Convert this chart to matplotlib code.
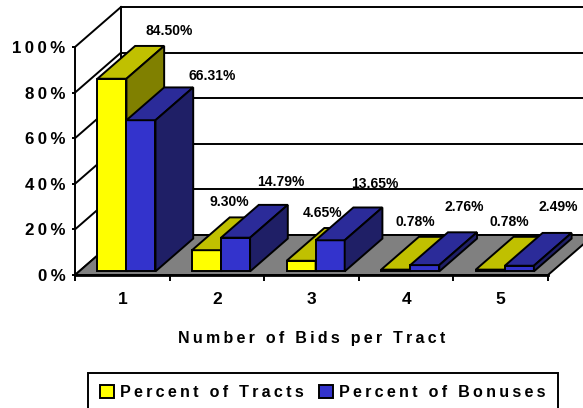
import matplotlib.pyplot as plt
from matplotlib.patches import Polygon, Patch

categories = ["1", "2", "3", "4", "5"]
pct_tracts = [84.50, 9.30, 4.65, 0.78, 0.78]
pct_bonuses = [66.31, 14.79, 13.65, 2.76, 2.49]
series_names = ["Percent of Tracts", "Percent of Bonuses"]
y_ticks = [0, 20, 40, 60, 80, 100]

FONT = ["Liberation Sans", "DejaVu Sans"]
THIN = "\u2009"

# colours: front, top, side
YELLOW = ("#FFFF00", "#C0C000", "#808000")
BLUE = ("#3333CC", "#2B2B99", "#1F1F66")

# pixel scale of the front plane
PX_X = 94.6   # px per category
PX_Y = 2.28   # px per percent

# fake 3d depth (data units)
DX = 46 / PX_X
DY = 40 / PX_Y
F0, F1 = 0.09, 0.91
BAR_W = 0.307
LW = 1.4


def spaced(s):
    # Excel style letter spacing
    return THIN.join(s)


fig = plt.figure(figsize=(5.83, 4.08), dpi=100)
ax = fig.add_axes([75 / 583, 133 / 408, 473 / 583, 228 / 408])
ax.set_xlim(0.5, 5.5)
ax.set_ylim(0, 100)

# back wall + side wall grid
for v in y_ticks:
    ax.plot([0.5 + DX, 7], [v + DY, v + DY], color="k", lw=LW, clip_on=False, zorder=1)
    ax.plot([0.5, 0.5 + DX], [v, v + DY], color="k", lw=LW, clip_on=False, zorder=1)
ax.plot([0.5 + DX, 0.5 + DX], [DY, 100 + DY], color="k", lw=LW, clip_on=False, zorder=1)

# floor
floor = [(0.5, 0), (5.5, 0), (5.5 + DX, DY), (0.5 + DX, DY)]
ax.add_patch(Polygon(floor, closed=True, fc="#808080", ec="k", lw=LW,
                     clip_on=False, zorder=2))


def draw_bar(x0, v, colors, z):
    fx, fy = F0 * DX, F0 * DY
    bx, by = F1 * DX, F1 * DY
    x1 = x0 + BAR_W
    front = [(x0 + fx, fy), (x1 + fx, fy), (x1 + fx, v + fy), (x0 + fx, v + fy)]
    top = [(x0 + fx, v + fy), (x1 + fx, v + fy), (x1 + bx, v + by), (x0 + bx, v + by)]
    side = [(x1 + fx, fy), (x1 + bx, by), (x1 + bx, v + by), (x1 + fx, v + fy)]
    for pts, c in zip([front, top, side], colors):
        ax.add_patch(Polygon(pts, closed=True, fc=c, ec="k", lw=LW,
                             joinstyle="miter", clip_on=False, zorder=z))
    return x0 + BAR_W / 2 + fx, v + fy


def label(pos, v, off_x, off_y):
    # labels drift right on tall bars (perspective-ish like Excel)
    x, y = pos
    ax.text(x + off_x / PX_X, y + off_y / PX_Y, f"{v:.2f}%", ha="center",
            va="center", fontsize=10, fontweight="bold", family=FONT,
            clip_on=False, zorder=20)


z = 3
for i, (t, b) in enumerate(zip(pct_tracts, pct_bonuses)):
    c = i + 1
    pos = draw_bar(c - BAR_W, t, YELLOW, z)
    label(pos, t, 19 + 0.45 * t, 48)
    pos = draw_bar(c, b, BLUE, z + 1)
    label(pos, b, 38 + 0.5 * b, 59 - 0.22 * b)
    z += 2

# axes
for s in ["top", "right"]:
    ax.spines[s].set_visible(False)
ax.spines["left"].set_linewidth(LW)
ax.spines["bottom"].set_linewidth(2)
ax.spines["bottom"].set_zorder(30)

ax.set_yticks(y_ticks)
ax.set_yticklabels([spaced(f"{t}%") for t in y_ticks], fontsize=12.2,
                   fontweight="bold", family=FONT)
ax.tick_params(axis="y", direction="out", length=2.5, width=LW, pad=4.3)

ax.set_xticks(range(1, len(categories) + 1))
ax.set_xticklabels(categories, fontsize=12.5, fontweight="bold", family=FONT)
ax.set_xticks([0.5 + i for i in range(len(categories) + 1)], minor=True)
ax.tick_params(axis="x", which="major", length=0, pad=12)
ax.tick_params(axis="x", which="minor", direction="out", length=4.3, width=LW)

ax.set_xlabel(spaced("Number of Bids per Tract"), fontsize=11.5,
              fontweight="bold", family=FONT)
ax.xaxis.set_label_coords(0.5, -0.245)

handles = [Patch(fc=YELLOW[0], ec="k", lw=LW), Patch(fc=BLUE[0], ec="k", lw=LW)]
leg = fig.legend(handles, [spaced(n) for n in series_names], loc="upper left",
                 bbox_to_anchor=(88 / 583, 35 / 408), ncol=2, fancybox=False,
                 edgecolor="k", framealpha=1, borderpad=0.75, handlelength=0.85,
                 handleheight=0.85, handletextpad=0.4, columnspacing=0.95,
                 borderaxespad=0, prop=dict(family=FONT, weight="bold", size=11.6))
leg.get_frame().set_linewidth(LW)

fig.savefig("out.png", dpi=100)
